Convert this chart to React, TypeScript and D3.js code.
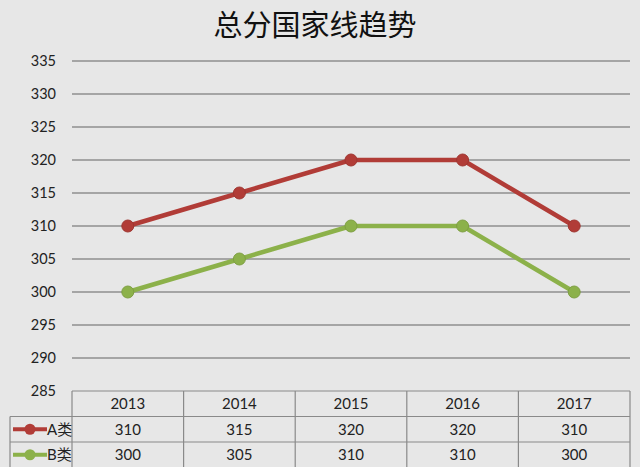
import React from 'react'
import * as d3 from 'd3'

const years = ['2013', '2014', '2015', '2016', '2017']
const seriesNames = ['A类', 'B类']
const seriesA = [310, 315, 320, 320, 310]
const seriesB = [300, 305, 310, 310, 300]
const yTicks = [285, 290, 295, 300, 305, 310, 315, 320, 325, 330, 335]
const colors = ['#b13c37', '#8cb14a']

const W = 640
const H = 467
const plot = { left: 72, right: 630, top: 61, bottom: 391 }
const rowH = 25.5
const legendLeft = 10
const font = 'Lato, "Noto Sans CJK SC", sans-serif'

const App = () => {
  const x = d3.scaleBand<string>().domain(years).range([plot.left, plot.right]).padding(0)
  const y = d3.scaleLinear().domain([285, 335]).range([plot.bottom, plot.top])
  const line = d3.line<number>()
    .x((_, i) => (x(years[i]) ?? 0) + x.bandwidth() / 2)
    .y(d => y(d))

  const series = [seriesA, seriesB]
  const tableTop = plot.bottom
  const rowsY = [tableTop, tableTop + rowH, tableTop + rowH * 2, tableTop + rowH * 3]

  return (
    <svg width={W} height={H} style={{ position: 'absolute', left: 0, top: 0, background: '#e7e7e7' }}>
      <rect x={0} y={0} width={W} height={H} fill='#e7e7e7' />
      <text x={315} y={36} textAnchor='middle' fontSize={29} fontWeight={400}
        fontFamily='"Noto Sans CJK SC", sans-serif' fill='#111'>总分国家线趋势</text>

      {/* gridlines + y ticks */}
      {yTicks.map(t => (
        <g key={t}>
          {t !== 285 && (
            <line x1={plot.left} x2={plot.right} y1={y(t)} y2={y(t)} stroke='#8f8f8f' strokeWidth={1.5} />
          )}
          <text x={56} y={y(t) + 5} textAnchor='end' fontSize={14.5} fontFamily={font} fill='#222'>{t}</text>
        </g>
      ))}

      {/* data table */}
      <g stroke='#8a8a8a' strokeWidth={1.2} fill='none'>
        <line x1={plot.left} x2={plot.right} y1={rowsY[0]} y2={rowsY[0]} />
        <line x1={legendLeft} x2={plot.right} y1={rowsY[1]} y2={rowsY[1]} />
        <line x1={legendLeft} x2={plot.right} y1={rowsY[2]} y2={rowsY[2]} />
        <line x1={legendLeft} x2={plot.right} y1={rowsY[3]} y2={rowsY[3]} />
        <line x1={legendLeft} x2={legendLeft} y1={rowsY[1]} y2={H} />
        {years.map(yr => (
          <line key={yr} x1={x(yr)} x2={x(yr)} y1={rowsY[0]} y2={H} />
        ))}
        <line x1={plot.right} x2={plot.right} y1={rowsY[0]} y2={H} />
      </g>
      {years.map(yr => (
        <text key={yr} x={(x(yr) ?? 0) + x.bandwidth() / 2} y={rowsY[0] + 18} textAnchor='middle'
          fontSize={15} fontFamily={font} fill='#222'>{yr}</text>
      ))}
      {series.map((s, si) => (
        <g key={si}>
          <line x1={legendLeft + 3} x2={legendLeft + 37} y1={rowsY[si + 1] + rowH / 2} y2={rowsY[si + 1] + rowH / 2}
            stroke={colors[si]} strokeWidth={4} />
          <circle cx={legendLeft + 20} cy={rowsY[si + 1] + rowH / 2} r={5.5} fill={colors[si]} />
          <text x={legendLeft + 37} y={rowsY[si + 1] + 18} fontSize={15} fontFamily={font} fill='#222'>{seriesNames[si]}</text>
          {s.map((v, i) => (
            <text key={i} x={(x(years[i]) ?? 0) + x.bandwidth() / 2} y={rowsY[si + 1] + 18} textAnchor='middle'
              fontSize={15} fontFamily={font} fill='#222'>{v}</text>
          ))}
        </g>
      ))}

      {/* lines */}
      {series.map((s, si) => (
        <g key={si}>
          <path d={line(s) ?? ''} fill='none' stroke={colors[si]} strokeWidth={4.5} strokeLinejoin='round' />
          {s.map((v, i) => (
            <circle key={i} cx={(x(years[i]) ?? 0) + x.bandwidth() / 2} cy={y(v)} r={6}
              fill={colors[si]} stroke={d3.color(colors[si])?.darker(0.3).toString()} strokeWidth={1} />
          ))}
        </g>
      ))}
    </svg>
  )
}

export default App
